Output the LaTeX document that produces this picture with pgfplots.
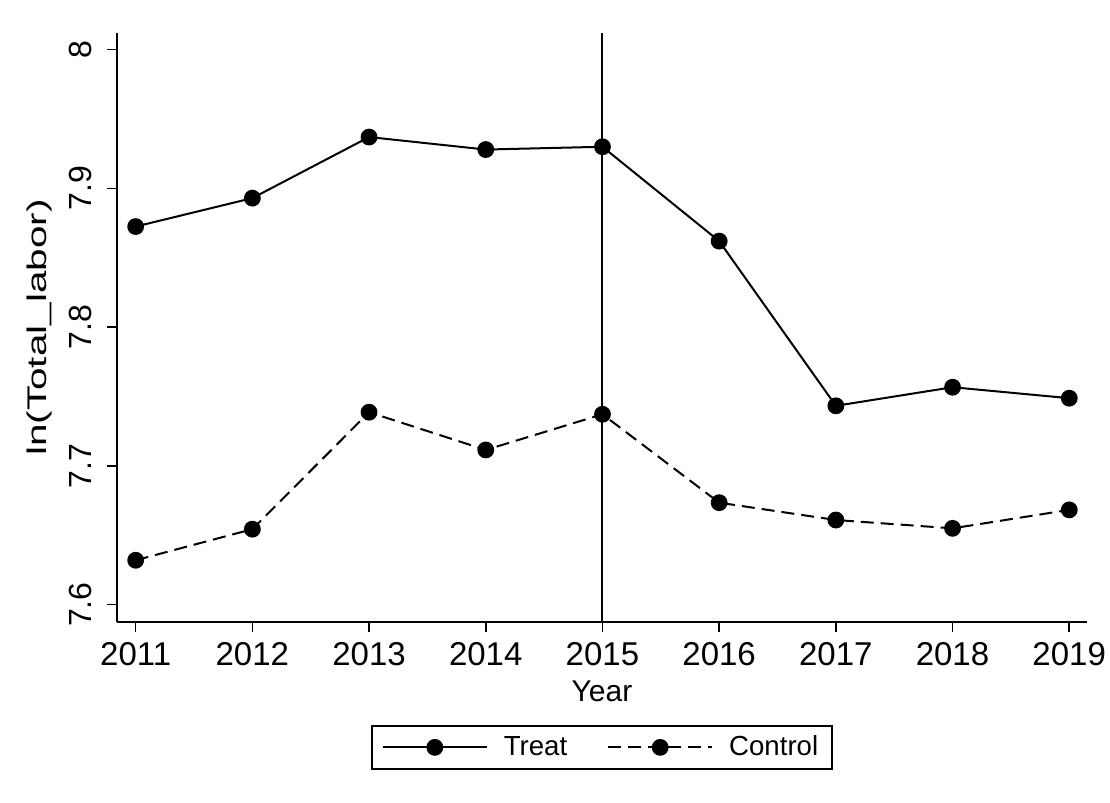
\documentclass[border=0pt]{standalone}
\usepackage{fontspec}
\setmainfont{Liberation Sans}
\usepackage{pgfplots}
\usepackage{graphicx}
\pgfplotsset{compat=1.18}
\begin{document}
\begin{tikzpicture}
\path[use as bounding box] (0,0) rectangle (555pt,401.5pt);
\begin{axis}[
  at={(58.5pt,90.5pt)}, anchor=south west,
  width=485pt, height=294.5pt, scale only axis,
  xmin=2010.84, xmax=2019.152,
  ymin=7.5875, ymax=8.012,
  axis x line*=bottom, axis y line*=left,
  axis line style={-, line width=0.8pt},
  xtick={2011,...,2019},
  ytick={7.6,7.7,7.8,7.9,8},
  yticklabels={7.6,7.7,7.8,7.9,8},
  xticklabels={2011,2012,2013,2014,2015,2016,2017,2018,2019},
  tick align=outside,
  major tick length=5pt,
  every tick/.style={line width=0.8pt, draw=black},
  /pgf/number format/assume math mode=true,
  xticklabel style={font=\fontsize{16.5}{19}\selectfont, yshift=-4pt, inner sep=1pt},
  yticklabel style={font=\fontsize{16}{19}\selectfont, rotate=90, anchor=south, yshift=4pt},
  xlabel={Year}, ylabel={\scalebox{1.5}[1]{ln(Total\_labor)}},
  xlabel style={font=\fontsize{15}{17}\selectfont, at={(axis description cs:0.5,0)}, anchor=center, yshift=-34.5pt, inner sep=1pt},
  ylabel style={font=\fontsize{13.5}{15}\selectfont, at={(axis description cs:-0.0794,0.5)}, anchor=center},
  legend style={at={(0.5,-0.175)}, anchor=north, legend columns=2,
    draw=black, line width=0.8pt, font=\fontsize{13.8}{15}\selectfont,
    inner xsep=5pt, inner ysep=3pt,
    /tikz/every odd column/.append style={column sep=6pt},
    /tikz/every even column/.append style={column sep=18pt}},
  legend image code/.code={\draw[mark repeat=2,mark phase=2,#1] plot coordinates {(0pt,0pt) (26pt,0pt) (52pt,0pt)};},
  clip=false,
]
\addplot[black, line width=1pt, forget plot] coordinates {(2015,7.5875) (2015,8.012)};
\addplot[black, line width=1pt, mark=*, mark size=3.7pt, mark options={solid}] coordinates {
(2011,7.8725) (2012,7.893) (2013,7.937) (2014,7.928) (2015,7.930) (2016,7.862) (2017,7.7433) (2018,7.7567) (2019,7.7488)};
\addlegendentry{Treat}
\addplot[black, line width=1pt, dash pattern=on 6.5pt off 3.5pt, mark=*, mark size=3.7pt, mark options={solid}] coordinates {
(2011,7.632) (2012,7.6544) (2013,7.7387) (2014,7.7115) (2015,7.7372) (2016,7.6735) (2017,7.661) (2018,7.655) (2019,7.6683)};
\addlegendentry{Control}
\end{axis}
\end{tikzpicture}
\end{document}
